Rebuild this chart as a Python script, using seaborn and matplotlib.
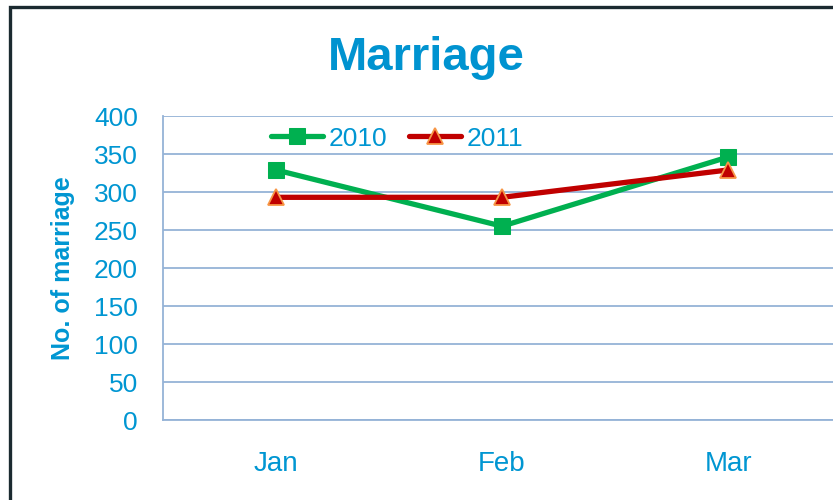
import matplotlib
matplotlib.use("Agg")
import matplotlib.pyplot as plt
import matplotlib.patches as mpatches
import pandas as pd
import seaborn as sns

months = ["Jan", "Feb", "Mar"]
marriages_2010 = [329, 255, 346]
marriages_2011 = [293, 293, 329]
y_ticks = [0, 50, 100, 150, 200, 250, 300, 350, 400]

TEXT = "#0096D2"
GRID = "#95B3D7"

df = pd.DataFrame({
    "Month": months * 2,
    "Marriages": marriages_2010 + marriages_2011,
    "Year": ["2010"] * 3 + ["2011"] * 3,
})

sns.set_style("white")
plt.rcParams["font.family"] = ["Liberation Sans", "DejaVu Sans"]

fig = plt.figure(figsize=(8.33, 5), dpi=100)
ax = fig.add_axes([0.1957, 0.16, 0.814, 0.608])

sns.lineplot(
    data=df, x="Month", y="Marriages", hue="Year", style="Year",
    palette={"2010": "#00B050", "2011": "#C00000"},
    markers={"2010": "s", "2011": "^"}, dashes=False,
    linewidth=3.8, markersize=11, ax=ax,
)
# triangle markers get an orange edge
for line in ax.lines:
    if line.get_marker() == "^":
        line.set_markeredgecolor("#F79646")
        line.set_markeredgewidth(1.3)
    elif line.get_marker() == "s":
        line.set_markeredgecolor("#00B050")

ax.set_xlim(-0.5, 2.5)
ax.set_ylim(0, 400)
ax.set_yticks(y_ticks)
ax.yaxis.grid(True, color=GRID, linewidth=1.3)
ax.xaxis.grid(False)
for side in ["top", "right"]:
    ax.spines[side].set_visible(False)
for side in ["left", "bottom"]:
    ax.spines[side].set_color(GRID)
    ax.spines[side].set_linewidth(1.3)
ax.tick_params(axis="both", length=0, labelcolor=TEXT)
ax.tick_params(axis="y", pad=18, labelsize=19)
ax.tick_params(axis="x", pad=22, labelsize=20)
ax.set_xlabel("")
ax.set_ylabel("No. of marriage", fontsize=18, fontweight="bold", color=TEXT, labelpad=14)

handles, labels = ax.get_legend_handles_labels()
for h in handles:
    if h.get_marker() == "^":
        h.set_markeredgecolor("#F79646")
ax.legend(handles, labels, loc="upper left", bbox_to_anchor=(0.124, 1.043),
          ncol=2, frameon=False, fontsize=19, labelcolor=TEXT,
          handlelength=1.97, handletextpad=0.22, columnspacing=0.83)

fig.text(0.512, 0.885, "Marriage", ha="center", va="center",
         fontsize=34, fontweight="bold", color="#0093D0")

fig.patches.append(mpatches.Rectangle(
    (0.012, -0.1), 1.1, 1.086, transform=fig.transFigure,
    fill=False, edgecolor="#1B2A30", linewidth=2.4))

fig.savefig("out.png", dpi=100)
